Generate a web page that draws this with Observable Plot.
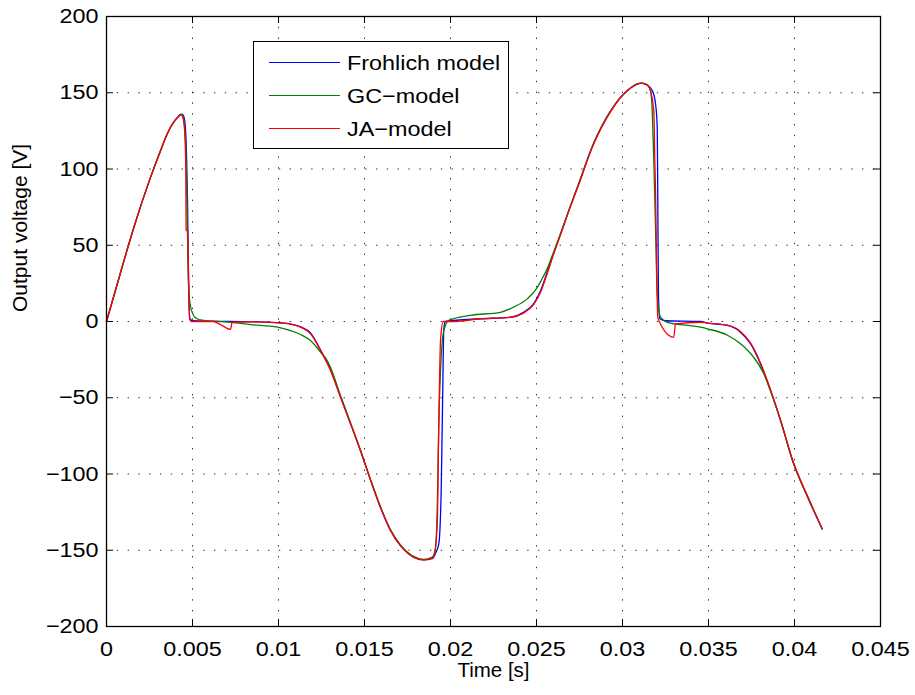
<!DOCTYPE html>
<html><head><meta charset="utf-8">
<script src="https://cdn.jsdelivr.net/npm/d3@7"></script>
<script src="https://cdn.jsdelivr.net/npm/@observablehq/plot@0.6"></script>
<style>
html,body{margin:0;padding:0;background:#fff;}
#wrap{position:relative;width:915px;height:695px;font-family:"Liberation Sans",Arial,sans-serif;}
#wrap svg{position:absolute;left:0;top:0;}
#legend{position:absolute;left:253px;top:41px;width:256px;height:108px;box-sizing:border-box;border:1.3px solid #000;background:#fff;}
.row{position:absolute;left:0;height:0;}
.sw{position:absolute;left:15px;width:71px;top:-0.6px;border-top:1.3px solid;}
.lab{position:absolute;left:93px;top:-12px;font-size:20.5px;line-height:24px;white-space:nowrap;color:#000;transform:scaleX(1.14);transform-origin:0 50%;}
</style></head><body><div id="wrap"></div>
<script>
// ---- data (time in s, voltage in V) ----
const seriesNames = ["Frohlich model", "GC\u2212model", "JA\u2212model"];
const seriesColors = ["#0000ff", "#008000", "#ff0000"];

const tFrohlich = [0,0.000814,0.00157,0.002558,0.00314,0.003529,0.003895,0.004186,0.004401,0.004506,0.004593,0.004651,0.004709,0.004767,0.004843,0.005,0.007209,0.008953,0.01029,0.01128,0.01186,0.01244,0.01302,0.0136,0.01419,0.01477,0.01535,0.01593,0.01651,0.01709,0.01785,0.01843,0.01894,0.01913,0.01932,0.01946,0.01955,0.01961,0.01971,0.02174,0.02349,0.02424,0.02483,0.02523,0.02564,0.02599,0.0264,0.02698,0.02738,0.02831,0.0293,0.03029,0.03115,0.03145,0.03173,0.03192,0.03202,0.03205,0.03209,0.03217,0.0325,0.03453,0.03494,0.0361,0.03686,0.03744,0.03802,0.0386,0.03919,0.03994,0.04076,0.04161];
const vFrohlich = [0,32,61,94.5,112,123,130.5,134.5,136,134,126,110,80,30,2,0.5,0,-0.3,-1,-3.5,-7.5,-18.5,-31.5,-49,-67,-85,-104,-122,-137,-147,-154.5,-156.3,-155.5,-152,-145.8,-110,-45,-5,0,1.8,2.8,6,11.6,20,33,44.5,57.5,76,88,116.5,138,151.5,156.3,155,151.5,142.8,127,83.7,18,1.8,0.5,0,-1,-2.6,-7,-14.6,-27.8,-45,-65,-93,-115,-136];

const tGC = [0,0.000814,0.00157,0.002558,0.00314,0.003529,0.003895,0.004186,0.004302,0.004419,0.004535,0.004622,0.00468,0.004727,0.004785,0.004884,0.004983,0.005116,0.005273,0.005465,0.006047,0.007209,0.008372,0.009942,0.0107,0.01128,0.01186,0.01244,0.01283,0.01302,0.0136,0.01419,0.01477,0.01535,0.01593,0.01651,0.01709,0.01785,0.01843,0.01894,0.01913,0.01923,0.01932,0.01946,0.01961,0.0199,0.02116,0.02291,0.02366,0.02448,0.02506,0.02523,0.02564,0.02599,0.0264,0.02698,0.02738,0.02831,0.0293,0.03029,0.03105,0.03145,0.03163,0.03173,0.03182,0.03192,0.03202,0.03221,0.0326,0.03453,0.03494,0.0361,0.03686,0.03762,0.0382,0.0386,0.03919,0.03994,0.04076,0.04161];
const vGC = [0,32,61,94.5,112,123,130.5,134.5,136,135,128,110,80,45,20,10,6,3,1.8,1,0.3,-0.5,-2,-3.7,-6,-8.5,-12.5,-20,-25.6,-30,-48.5,-66.5,-84.5,-103.5,-121.5,-136.5,-146.5,-154,-156,-154.5,-148,-122,-67,-23,-6,0.7,4,6,9.4,15,22.5,26,35,45.5,57.5,76,88,116.5,138,151.5,156.3,155,151.5,138,105.6,61.8,18,2.8,-0.5,-3.7,-4.8,-9,-14.6,-23.4,-34,-45.5,-65,-93,-115,-136];

const tJA = [0,0.000814,0.00157,0.002558,0.00314,0.003529,0.003895,0.004186,0.004349,0.004477,0.004564,0.00461,0.004628,0.004709,0.004756,0.004797,0.004855,0.004942,0.006221,0.006628,0.007209,0.007308,0.008372,0.01029,0.01128,0.01186,0.01244,0.01302,0.0136,0.01419,0.01477,0.01535,0.01593,0.01651,0.01709,0.01785,0.01843,0.01903,0.01923,0.01932,0.01942,0.01958,0.02017,0.02174,0.02349,0.02424,0.02483,0.02523,0.02564,0.02599,0.0264,0.02698,0.02738,0.02831,0.0293,0.03029,0.03105,0.03145,0.03163,0.03182,0.03188,0.03192,0.03198,0.03205,0.03211,0.03298,0.03308,0.03453,0.03494,0.0361,0.03686,0.03744,0.03802,0.0386,0.03919,0.03994,0.04076,0.04161];
const vJA = [0,32,61,94.5,112,123,130.5,134.5,135.5,132,120,100,60,59,40,10,1,0,0,-2,-5.2,-0.5,-0.2,-1,-3.7,-8,-19,-32,-49.6,-67,-84.6,-104,-121.8,-137,-147,-154.5,-156.3,-154.5,-132.7,-67,-12.5,0,0,1.8,2.8,5.5,11,19,32,44,57,75.5,87.5,116,137.5,151.5,156.3,155,151,138,105.6,86,40,3,0.7,-10.3,-1.5,-0.5,-1,-2.4,-6.5,-14,-27,-44.5,-64.5,-92.5,-114.5,-136];

const xTicks = [0,0.005,0.01,0.015,0.02,0.025,0.03,0.035,0.04,0.045];
const yTicks = [-200,-150,-100,-50,0,50,100,150,200];
const xLabel = "Time [s]";
const yLabel = "Output voltage [V]";

// ---- build ----
const toRows = (ts, vs) => ts.map((t, i) => ({t, v: vs[i]}));
const allSeries = [toRows(tFrohlich, vFrohlich), toRows(tGC, vGC), toRows(tJA, vJA)];

const W = 915, H = 695, mL = 106, mR = 35, mT = 16, mB = 69;
const iW = W - mL - mR, iH = H - mT - mB, tk = 7;
const fmtX = d => d === 0 ? "0" : String(+d.toFixed(3));
const fmtY = d => d < 0 ? "\u2212" + (-d) : String(d);
const innerX = xTicks.slice(1, -1), innerY = yTicks.slice(1, -1);
const dots = "1.4,9.4";
const FS = 20.5;

const chart = Plot.plot({
  width: W, height: H,
  marginLeft: mL, marginRight: mR, marginTop: mT, marginBottom: mB,
  style: {fontFamily: "Liberation Sans, Arial, sans-serif", fontSize: FS + "px", background: "#fff", color: "#000"},
  x: {domain: [0, 0.045]},
  y: {domain: [-200, 200]},
  marks: [
    Plot.gridX(innerX, {stroke: "#000", strokeOpacity: 0.9, strokeWidth: 0.9, strokeDasharray: dots}),
    Plot.gridY(innerY, {stroke: "#000", strokeOpacity: 0.9, strokeWidth: 0.9, strokeDasharray: dots}),
    Plot.tickX(xTicks, {x: d => d, insetTop: iH - tk, stroke: "#000", strokeWidth: 1}),
    Plot.tickX(xTicks, {x: d => d, insetBottom: iH - tk, stroke: "#000", strokeWidth: 1}),
    Plot.tickY(yTicks, {y: d => d, insetRight: iW - tk, stroke: "#000", strokeWidth: 1}),
    Plot.tickY(yTicks, {y: d => d, insetLeft: iW - tk, stroke: "#000", strokeWidth: 1}),
    ...allSeries.map((rows, i) => Plot.line(rows, {x: "t", y: "v", stroke: seriesColors[i], strokeWidth: 1.3, curve: "monotone-x"})),
    Plot.frame({stroke: "#000", strokeWidth: 1.3}),
    Plot.axisX(xTicks, {tickSize: 0, tickPadding: 15, tickFormat: fmtX, label: null, fontSize: FS}),
    Plot.axisY(yTicks, {tickSize: 0, tickPadding: 8, tickFormat: fmtY, label: null, fontSize: FS}),
    Plot.text([xLabel], {frameAnchor: "bottom", dy: 50, fontSize: FS, fill: "#000", ariaLabel: "xlabeltext"}),
    Plot.text([yLabel], {frameAnchor: "left", dx: -86, dy: -9.5, rotate: -90, fontSize: 21, fill: "#000"})
  ]
});

// horizontal text in the reference is slightly wider than the font: stretch it
chart.querySelectorAll('g[aria-label="x-axis tick label"] text, g[aria-label="y-axis tick label"] text, g[aria-label="xlabeltext"] text').forEach(t => {
  const tr = t.getAttribute("transform");
  if (tr) t.setAttribute("transform", tr + " scale(1.14,1)");
});

const wrap = document.getElementById("wrap");
wrap.appendChild(chart);

const legend = document.createElement("div");
legend.id = "legend";
const rowTops = [20.7, 53.5, 86.7];
seriesNames.forEach((name, i) => {
  const row = document.createElement("div");
  row.className = "row";
  row.style.top = rowTops[i] + "px";
  const sw = document.createElement("div");
  sw.className = "sw";
  sw.style.borderTopColor = seriesColors[i];
  const lab = document.createElement("div");
  lab.className = "lab";
  lab.textContent = name;
  row.appendChild(sw); row.appendChild(lab);
  legend.appendChild(row);
});
wrap.appendChild(legend);
</script></body></html>
